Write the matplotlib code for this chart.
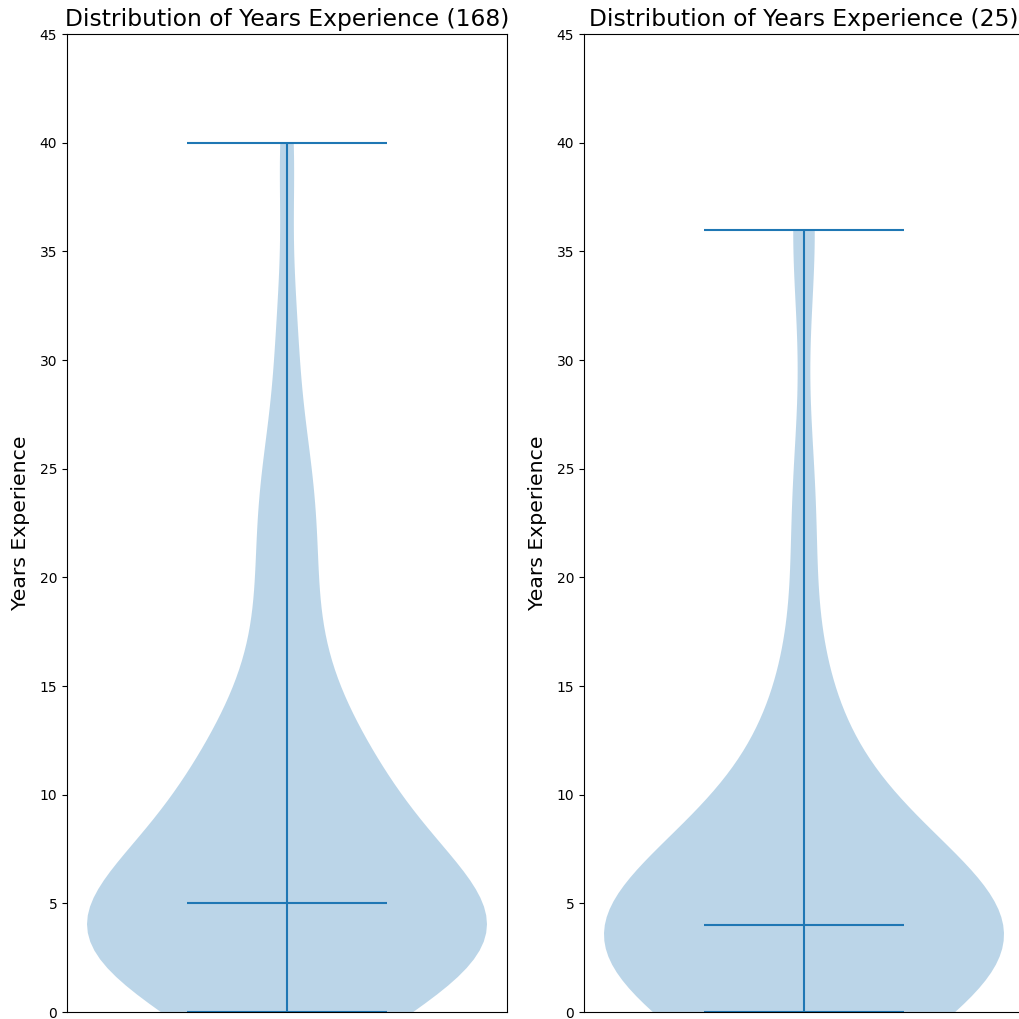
import matplotlib
matplotlib.use("Agg")
import matplotlib.pyplot as plt
import numpy as np

# years of experience and how many people reported each value
years_a = [0, 1, 2, 3, 4, 5, 6, 7, 8, 9, 10, 11, 12, 13, 14, 15, 16, 17, 18,
           19, 20, 21, 22, 23, 24, 25, 26, 27, 30, 32, 33, 38, 40]
count_a = [11, 12, 13, 14, 14, 21, 8, 7, 7, 6, 8, 5, 6, 3, 3, 3, 2, 1, 2,
           1, 3, 1, 2, 2, 1, 3, 1, 1, 2, 1, 1, 1, 2]

years_b = [0, 0, 1, 1, 2, 2, 3, 3, 3, 3, 3, 4, 4, 4, 4, 5, 5, 6, 6, 7, 9,
           12, 14, 23, 36]

data_a = np.repeat(years_a, count_a)
data_b = np.array(years_b)

fig = plt.figure(figsize=(10.19, 10.19), dpi=100)
W, H = 1019.0, 1019.0
ax1 = fig.add_axes([67 / W, 7 / H, 440 / W, 978 / H])
ax2 = fig.add_axes([584 / W, 7 / H, 440 / W, 978 / H])

for ax, d in [(ax1, data_a), (ax2, data_b)]:
	ax.violinplot(d, showmedians=True)
	ax.set_ylim(0, 45)
	ax.set_xticks([])
	ax.set_ylabel('Years Experience', fontsize=14.7, labelpad=7)
	ax.set_title('Distribution of Years Experience (%d)' % len(d), fontsize=16.8)

fig.savefig("out.png", dpi=100)
